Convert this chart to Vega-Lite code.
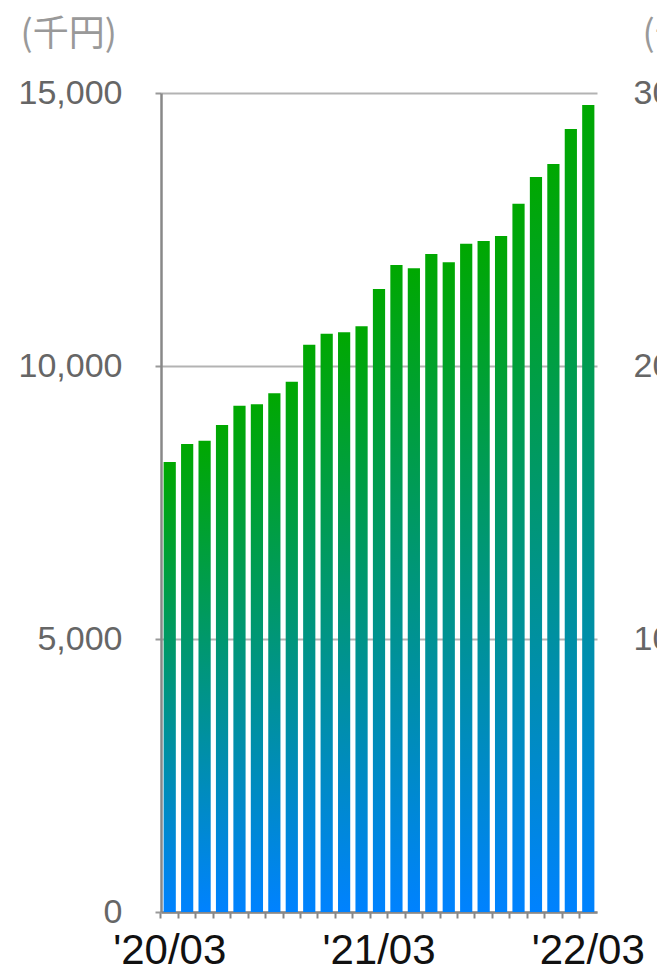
{
  "$schema": "https://vega.github.io/schema/vega-lite/v6.json",
  "width": 436,
  "height": 819,
  "autosize": {"type": "none"},
  "padding": {"left": 161, "top": 93, "right": 60, "bottom": 62},
  "background": "white",
  "config": {
    "view": {"stroke": null},
    "font": "Liberation Sans"
  },
  "data": {
    "values": [
      {"m": "'20/03", "v": 8240},
      {"m": "'20/04", "v": 8570},
      {"m": "'20/05", "v": 8630},
      {"m": "'20/06", "v": 8920},
      {"m": "'20/07", "v": 9270},
      {"m": "'20/08", "v": 9300},
      {"m": "'20/09", "v": 9500},
      {"m": "'20/10", "v": 9710},
      {"m": "'20/11", "v": 10390},
      {"m": "'20/12", "v": 10590},
      {"m": "'21/01", "v": 10620},
      {"m": "'21/02", "v": 10730},
      {"m": "'21/03", "v": 11410},
      {"m": "'21/04", "v": 11850},
      {"m": "'21/05", "v": 11790},
      {"m": "'21/06", "v": 12050},
      {"m": "'21/07", "v": 11900},
      {"m": "'21/08", "v": 12240},
      {"m": "'21/09", "v": 12290},
      {"m": "'21/10", "v": 12380},
      {"m": "'21/11", "v": 12970},
      {"m": "'21/12", "v": 13460},
      {"m": "'22/01", "v": 13700},
      {"m": "'22/02", "v": 14340},
      {"m": "'22/03", "v": 14780}
    ]
  },
  "encoding": {
    "x": {
      "field": "m",
      "type": "ordinal",
      "sort": null,
      "scale": {"paddingInner": 0.3, "paddingOuter": 0.15},
      "axis": {
        "title": null,
        "bandPosition": -0.2143,
        "labelAngle": 0,
        "labelExpr": "slice(datum.value, 4) == '03' ? datum.value : ''",
        "labelOverlap": false,
        "labelFlush": false,
        "labelBound": false,
        "labelFont": "Liberation Sans",
        "labelFontSize": 42,
        "labelColor": "#111111",
        "labelBaseline": "alphabetic",
        "labelPadding": 45,
        "tickSize": 6,
        "tickWidth": 2,
        "tickColor": "#888888",
        "domainColor": "#888888",
        "domainWidth": 2.5,
        "grid": false
      }
    }
  },
  "layer": [
    {
      "mark": {
        "type": "bar",
        "fill": {
          "gradient": "linear",
          "x1": 0, "y1": 1, "x2": 0, "y2": 0,
          "stops": [
            {"offset": 0, "color": "#0082ff"},
            {"offset": 1, "color": "#00a800"}
          ]
        }
      },
      "encoding": {
        "y": {
          "field": "v",
          "type": "quantitative",
          "scale": {"domain": [0, 15000], "nice": false},
          "axis": {
            "title": "(千円)",
            "titleAngle": 0,
            "titleFont": "Noto Sans CJK JP",
            "titleFontSize": 36,
            "titleFontWeight": "normal",
            "titleColor": "#999999",
            "titleAlign": "left",
            "titleBaseline": "middle",
            "titleX": -141,
            "titleY": -59,
            "values": [0, 5000, 10000, 15000],
            "format": ",d",
            "labelFont": "Liberation Sans",
            "labelFontSize": 34,
            "labelColor": "#666666",
            "labelPadding": 33,
            "tickSize": 6,
            "tickWidth": 2,
            "tickColor": "#999999",
            "domainColor": "#888888",
            "domainWidth": 2.5,
            "grid": true,
            "gridColor": "#b3b3b3",
            "gridWidth": 2
          }
        }
      }
    },
    {
      "mark": {"type": "bar", "opacity": 0},
      "encoding": {
        "y": {
          "field": "v",
          "type": "quantitative",
          "scale": {"domain": [0, 30000], "nice": false},
          "axis": {
            "orient": "right",
            "title": "(千円)",
            "titleAngle": 0,
            "titleFont": "Noto Sans CJK JP",
            "titleFontSize": 36,
            "titleFontWeight": "normal",
            "titleColor": "#999999",
            "titleAlign": "left",
            "titleBaseline": "middle",
            "titleX": 45,
            "titleY": -59,
            "values": [0, 10000, 20000, 30000],
            "format": ",d",
            "labelExpr": "datum.value == 0 ? '' : datum.label",
            "labelFont": "Liberation Sans",
            "labelFontSize": 34,
            "labelColor": "#666666",
            "labelPadding": 36,
            "ticks": false,
            "domain": false,
            "grid": false
          }
        }
      }
    }
  ],
  "resolve": {"scale": {"y": "independent"}}
}
